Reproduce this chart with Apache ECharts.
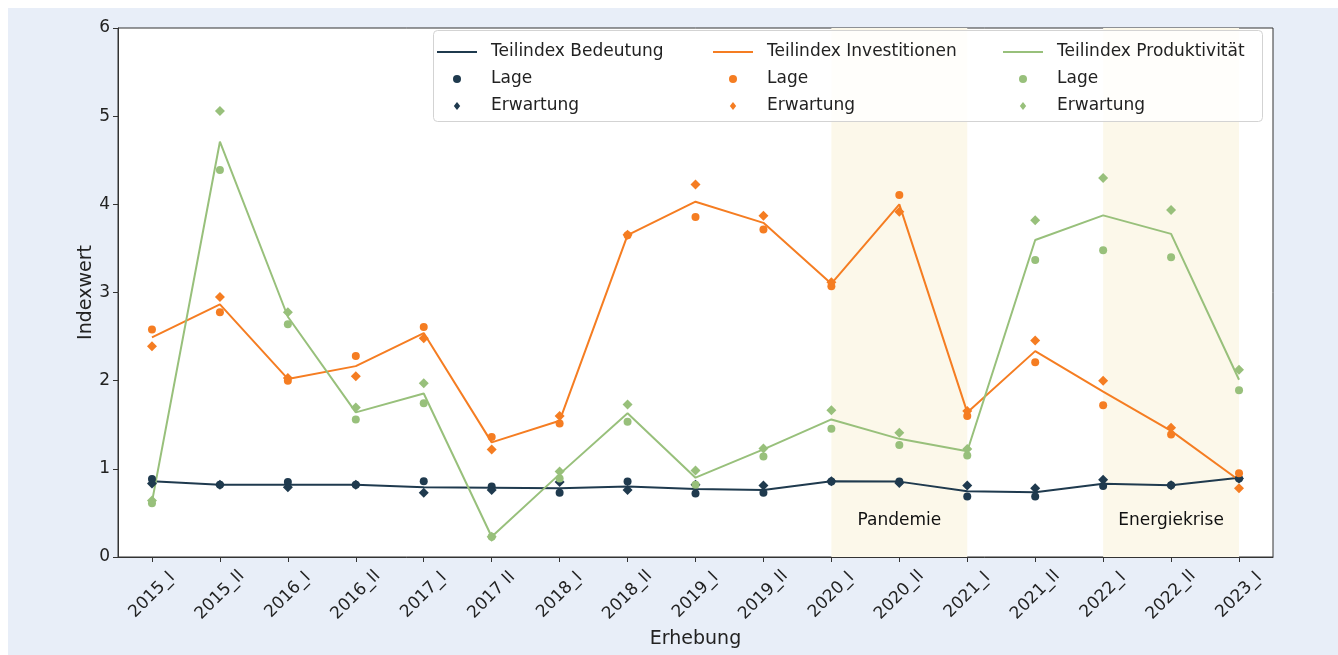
<!DOCTYPE html>
<html>
<head>
<meta charset="utf-8">
<script src="https://cdn.jsdelivr.net/npm/echarts@6/dist/echarts.min.js"></script>
<style>
html,body{margin:0;padding:0;background:#ffffff;}
#chart{position:absolute;left:8px;top:8px;width:1330px;height:647px;background:#e8eef8;}
</style>
</head>
<body>
<div id="chart"></div>
<script>
const categories = ['2015_I','2015_II','2016_I','2016_II','2017_I','2017 II','2018_I','2018_II','2019_I','2019_II','2020_I','2020_II','2021_I','2021_II','2022_I','2022_II','2023_I'];
const yTicks = [0,1,2,3,4,5,6];

const bedeutungLine = [0.86,0.82,0.82,0.82,0.79,0.785,0.78,0.80,0.77,0.76,0.86,0.855,0.745,0.735,0.83,0.815,0.90];
const bedeutungLage = [0.885,0.82,0.85,0.82,0.86,0.80,0.73,0.855,0.72,0.73,0.855,0.855,0.685,0.685,0.805,0.815,0.89];
const bedeutungErw  = [0.835,0.82,0.79,0.82,0.73,0.76,0.85,0.76,0.82,0.81,0.86,0.84,0.81,0.78,0.875,0.815,0.89];

const investLine = [2.49,2.865,2.02,2.165,2.54,1.30,1.545,3.65,4.03,3.79,3.10,4.00,1.64,2.335,1.875,1.43,0.87];
const investLage = [2.58,2.775,2.00,2.28,2.61,1.36,1.515,3.65,3.855,3.715,3.07,4.105,1.60,2.21,1.72,1.39,0.95];
const investErw  = [2.39,2.95,2.03,2.05,2.48,1.22,1.60,3.655,4.225,3.87,3.115,3.915,1.655,2.455,2.00,1.465,0.78];

const produktLine = [0.625,4.71,2.725,1.64,1.855,0.23,0.94,1.63,0.90,1.22,1.56,1.34,1.20,3.595,3.875,3.665,2.01];
const produktLage = [0.61,4.39,2.64,1.56,1.745,0.23,0.89,1.535,0.82,1.14,1.455,1.27,1.15,3.37,3.48,3.40,1.89];
const produktErw  = [0.64,5.06,2.775,1.695,1.97,0.23,0.97,1.73,0.98,1.23,1.665,1.41,1.225,3.82,4.30,3.935,2.125];

const periods = [
  {name:'Pandemie', from:'2020_I', to:'2021_I'},
  {name:'Energiekrise', from:'2022_I', to:'2023_I'}
];

const C_NAVY = '#1f3a4e';
const C_ORANGE = '#f57d22';
const C_GREEN = '#98c07b';
const FONT = 'DejaVu Sans';
const ICON_LINE = 'path://M0,0H40V2H0Z';
const ICON_DIAMOND = 'path://M4,0L8,5L4,10L0,5Z';

function lineSeries(name, data, color){
  return {name:name, type:'line', data:data, symbol:'none', z:3,
    lineStyle:{color:color, width:2}, itemStyle:{color:color}, emphasis:{disabled:true}};
}
function scatterSeries(name, data, color, symbol, size){
  return {name:name, type:'scatter', data:data, symbol:symbol, symbolSize:size, z:4,
    itemStyle:{color:color, opacity:1}, emphasis:{disabled:true}};
}

const series = [
  {name:'shade', type:'line', data:[], z:1, silent:true,
    markArea:{silent:true, itemStyle:{color:'#fcf8ea'},
      label:{show:true, position:'insideBottom', distance:28, fontSize:17, color:'#111', fontFamily:FONT},
      data: periods.map(p=>[{name:p.name, xAxis:p.from},{xAxis:p.to}])}},
  lineSeries('Teilindex Bedeutung', bedeutungLine, C_NAVY),
  lineSeries('Teilindex Investitionen', investLine, C_ORANGE),
  lineSeries('Teilindex Produktivität', produktLine, C_GREEN),
  scatterSeries('Lage#B', bedeutungLage, C_NAVY, 'circle', 8),
  scatterSeries('Erwartung#B', bedeutungErw, C_NAVY, 'diamond', 10),
  scatterSeries('Lage#I', investLage, C_ORANGE, 'circle', 8),
  scatterSeries('Erwartung#I', investErw, C_ORANGE, 'diamond', 10),
  scatterSeries('Lage#P', produktLage, C_GREEN, 'circle', 8),
  scatterSeries('Erwartung#P', produktErw, C_GREEN, 'diamond', 10)
];

function legendCol(left, names){
  return {orient:'vertical', left:left, top:34, padding:0, itemGap:7, itemWidth:40, itemHeight:8,
    selectedMode:false, z:10, symbolKeepAspect:true,
    formatter: n => n.split('#')[0],
    textStyle:{fontSize:17, fontFamily:FONT, color:'#222', lineHeight:20, padding:[0,0,0,9]},
    data: [
      {name:names[0], icon:ICON_LINE},
      {name:names[1], icon:'circle'},
      {name:names[2], icon:ICON_DIAMOND}
    ]};
}

const chart = echarts.init(document.getElementById('chart'), null, {renderer:'canvas'});
chart.setOption({
  backgroundColor:'#e8eef8',
  animation:false,
  textStyle:{fontFamily:FONT},
  grid:{left:110, right:65, top:20, bottom:98, show:true, backgroundColor:'#ffffff', borderColor:'#333', borderWidth:1, containLabel:false},
  graphic:[{type:'rect', left:425, top:22, z:5, silent:true,
    shape:{width:829, height:91, r:4},
    style:{fill:'rgba(255,255,255,0.8)', stroke:'#d3d3d3', lineWidth:1}}],
  legend:[
    legendCol(429, ['Teilindex Bedeutung','Lage#B','Erwartung#B']),
    legendCol(705, ['Teilindex Investitionen','Lage#I','Erwartung#I']),
    legendCol(995, ['Teilindex Produktivität','Lage#P','Erwartung#P'])
  ],
  xAxis:{type:'category', data:categories, boundaryGap:true,
    name:'Erhebung', nameLocation:'middle', nameGap:72,
    nameTextStyle:{fontSize:19, color:'#222', fontFamily:FONT},
    axisLine:{show:true, lineStyle:{color:'#333', width:1}},
    axisTick:{show:true, alignWithLabel:true, length:5, lineStyle:{color:'#333'}},
    axisLabel:{rotate:45, align:'center', verticalAlign:'middle', fontSize:17, color:'#222', margin:38, interval:0, fontFamily:FONT},
    splitLine:{show:false}},
  yAxis:{type:'value', min:yTicks[0], max:yTicks[yTicks.length-1], interval:1,
    name:'Indexwert', nameLocation:'middle', nameGap:22, nameMoveOverlap:false,
    nameTextStyle:{fontSize:19, color:'#222', fontFamily:FONT},
    axisLine:{show:true, lineStyle:{color:'#333', width:1}},
    axisTick:{show:true, length:5, lineStyle:{color:'#333'}},
    axisLabel:{fontSize:17, color:'#222', margin:8, fontFamily:FONT},
    splitLine:{show:false}},
  series: series
});
</script>
</body>
</html>
